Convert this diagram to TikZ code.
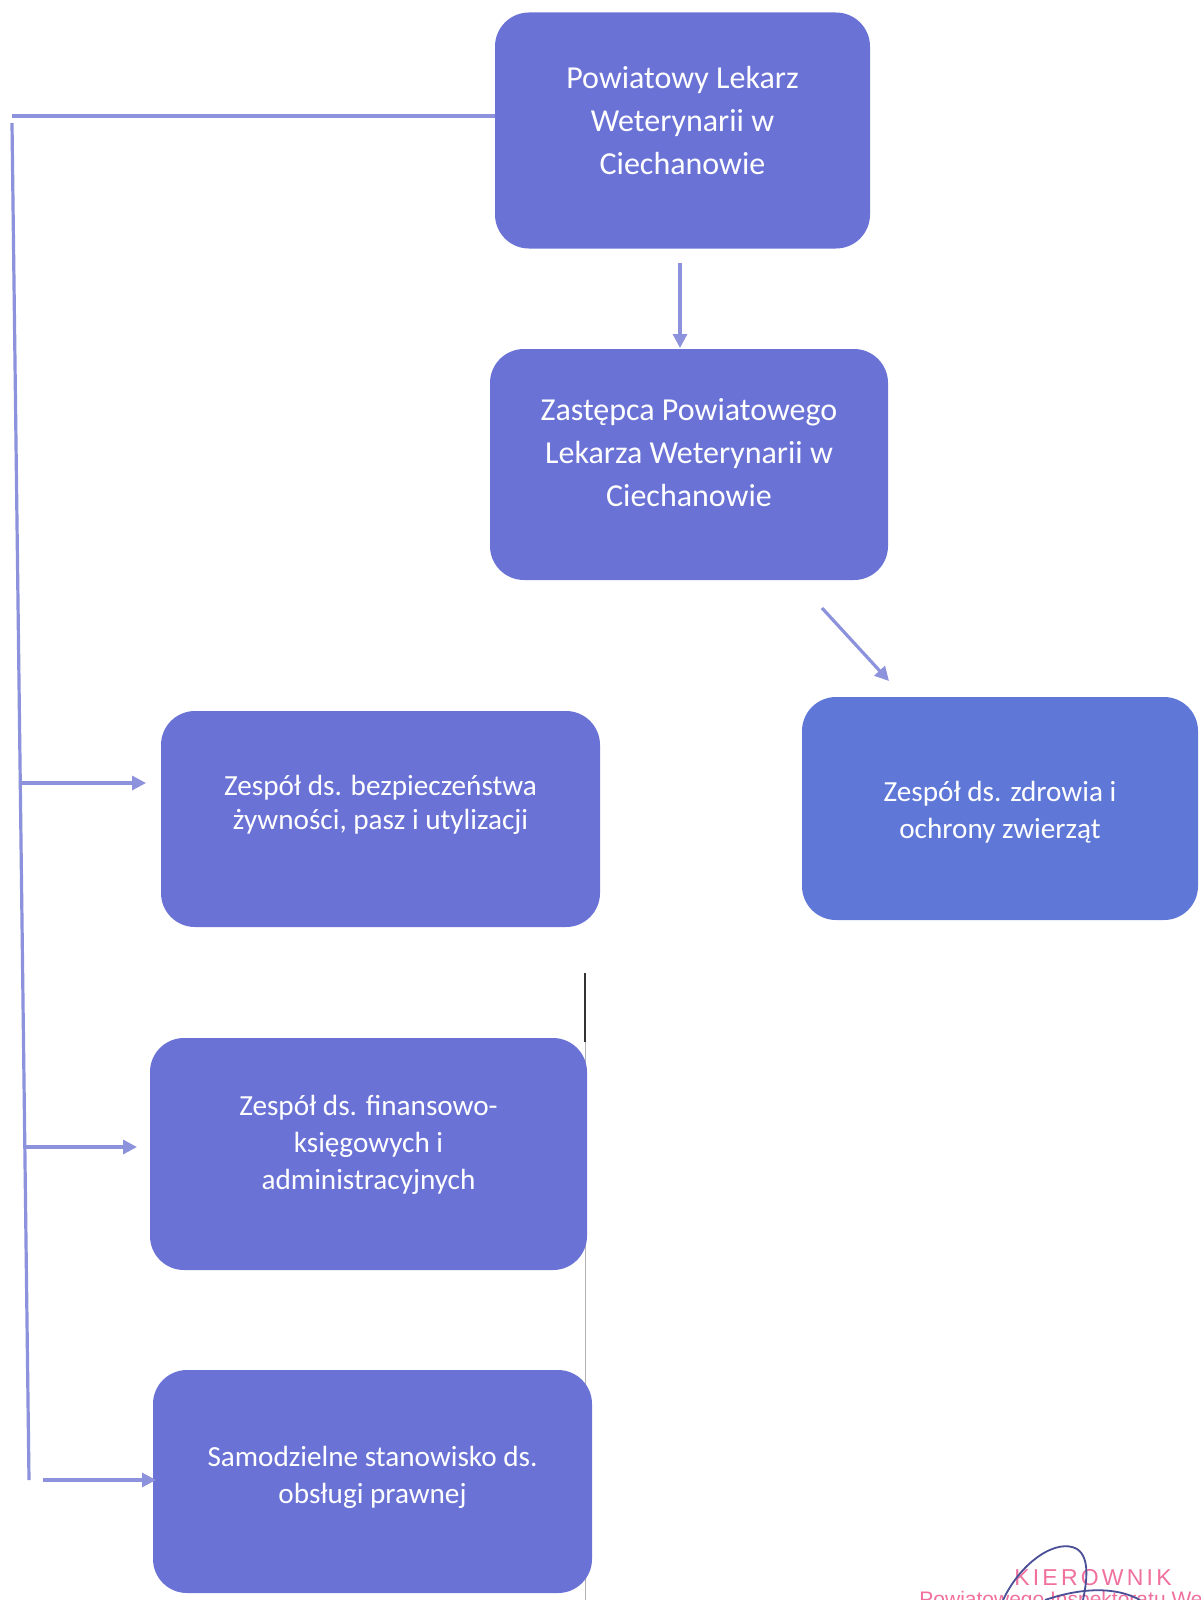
\documentclass[tikz,border=0pt]{standalone}
\usepackage{fontspec}
\setmainfont{Carlito}
\newfontfamily\stampfont{Liberation Sans}
\usetikzlibrary{arrows.meta}
\definecolor{boxblue}{HTML}{6A72D6}
\definecolor{boxblueb}{HTML}{5F78D8}
\definecolor{linkblue}{HTML}{8C93DC}
\definecolor{stamppink}{HTML}{F0709E}
\definecolor{signnavy}{HTML}{4B4F96}
\tikzset{
  orgbox/.style={rectangle, rounded corners=17pt, fill=boxblue, inner sep=0pt},
  boxtext/.style={text=white, align=center, inner sep=0pt},
  bigtext/.style={boxtext, font=\fontsize{16}{21.5}\selectfont},
  smalltext/.style={boxtext, font=\fontsize{14.6}{18.5}\selectfont},
  link/.style={draw=linkblue, line width=1.6pt, -{Triangle[length=7pt,width=7pt]}},
  plainlink/.style={draw=linkblue, line width=1.6pt},
}
\begin{document}
\begin{tikzpicture}[x=0.5pt,y=-0.5pt]
\clip (0,0) rectangle (1200,1600);
\fill[white] (0,0) rectangle (1200,1600);

% scan line at the right of the lower boxes
\draw[gray!60, line width=0.5pt] (585,973) -- (585,1600);
\draw[black!80, line width=0.7pt] (585,973) -- (585,1042);

% boxes
\node[orgbox, minimum width=187.5pt, minimum height=118pt] (b1) at (682.5,130.5) {};
\node[orgbox, minimum width=199pt, minimum height=115.5pt] (b2) at (689,464.5) {};
\node[orgbox, minimum width=219.5pt, minimum height=108pt] (b3) at (380.5,819) {};
\node[orgbox, fill=boxblueb, minimum width=198pt, minimum height=111.5pt] (b4) at (1000,808.5) {};
\node[orgbox, minimum width=218.5pt, minimum height=116pt] (b5) at (368.5,1154) {};
\node[orgbox, minimum width=219.5pt, minimum height=111.5pt] (b6) at (372.5,1481.5) {};

% texts
\node[bigtext] (t1) at ([yshift=5pt]b1.center) {Powiatowy Lekarz\\Weterynarii w\\Ciechanowie};
\node[bigtext] (t2) at ([yshift=6pt]b2.center) {Zastępca Powiatowego\\Lekarza Weterynarii w\\Ciechanowie};
\node[smalltext, font=\fontsize{14.6}{17.2}\selectfont] (t3) at ([yshift=7pt]b3.center) {Zespół ds. bezpieczeństwa\\żywności, pasz i utylizacji};
\node[smalltext] (t4) at ([yshift=-2pt]b4.center) {Zespół ds. zdrowia i\\ochrony zwierząt};
\node[smalltext] (t5) at ([yshift=4.5pt]b5.center) {Zespół ds. finansowo-\\księgowych i\\administracyjnych};
\node[smalltext] (t6) at ([yshift=2pt]b6.center) {Samodzielne stanowisko ds.\\obsługi prawnej};

% connector coordinates
\coordinate (ltop) at (12,116);
\coordinate (lstart) at (12,123);
\coordinate (lend) at (29,1480);
\coordinate (a3s) at (21,783);
\coordinate (a3e) at (146,783);
\coordinate (a5s) at (25,1147);
\coordinate (a5e) at (137,1147);
\coordinate (a6s) at (43,1480);
\coordinate (a6e) at (156,1480);
\coordinate (a12s) at (680,263);
\coordinate (a12e) at (680,348);
\coordinate (a24s) at (822,608);
\coordinate (a24e) at (889,681);

% connectors
\draw[plainlink] (ltop) -- (ltop -| b1.west);
\draw[plainlink] (lstart) -- (lend);
\draw[link] (a3s) -- (a3e);
\draw[link] (a5s) -- (a5e);
\draw[link] (a6s) -- (a6e);
\draw[link] (a12s) -- (a12e);
\draw[link] (a24s) -- (a24e);

% stamp and signature
\node[text=stamppink, font=\stampfont\fontsize{11.5}{13}\selectfont\addfontfeature{LetterSpace=14}, inner sep=0pt] (st1) at (1093,1578) {KIEROWNIK};
\node[text=stamppink, font=\stampfont\fontsize{10.5}{12}\selectfont, inner sep=0pt, anchor=north west] (st2) at (919,1591) {Powiatowego Inspektoratu Weterynarii};
\draw[signnavy, line width=0.9pt] (1003,1600) .. controls (1022,1560) and (1058,1538) .. (1077,1549) .. controls (1091,1558) and (1086,1585) .. (1083,1600);
\draw[signnavy, line width=0.9pt] (1045,1600) .. controls (1080,1588) and (1115,1586) .. (1140,1600);
\end{tikzpicture}
\end{document}
